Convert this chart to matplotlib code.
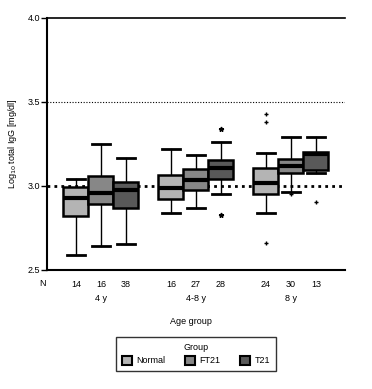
import matplotlib.pyplot as plt
import matplotlib.patches as mpatches
from matplotlib.transforms import blended_transform_factory

# data (log10 IgG, mg/dl)
age_groups = ["4 y", "4-8 y", "8 y"]
groups = ["Normal", "FT21", "T21"]
colors = ["#b4b4b4", "#878787", "#595959"]
n_counts = [14, 16, 38, 16, 27, 28, 24, 30, 13]

whislo = [2.59, 2.645, 2.657, 2.84, 2.87, 2.955, 2.84, 2.962, 3.077]
q1 = [2.82, 2.89, 2.867, 2.923, 2.974, 3.043, 2.952, 3.077, 3.093]
med = [2.927, 2.956, 2.974, 2.986, 3.036, 3.109, 3.016, 3.119, 3.189]
q3 = [2.996, 3.06, 3.026, 3.064, 3.099, 3.153, 3.105, 3.159, 3.204]
whishi = [3.044, 3.25, 3.168, 3.222, 3.187, 3.264, 3.196, 3.29, 3.29]
fliers = [[], [], [], [], [], [3.337, 2.827], [3.43, 3.38, 2.663], [2.95], [2.907]]
flier_marks = ["+", "+", "+", "+", "+", "*", "+", "+", "+"]

positions = [0, 1, 2, 3.8, 4.8, 5.8, 7.6, 8.6, 9.6]

fig = plt.figure(figsize=(3.72, 3.89), dpi=100)
plt.rcParams["font.family"] = ["Liberation Sans", "DejaVu Sans"]
ax = fig.add_axes([0.1263, 0.306, 0.801, 0.648])

stats = []
for i in range(len(med)):
    stats.append(dict(med=med[i], q1=q1[i], q3=q3[i], whislo=whislo[i],
                      whishi=whishi[i], fliers=[]))

# reference lines sit behind the boxes
ax.axhline(3.0, color="black", lw=2, ls=(0, (1, 1.5)), zorder=1)
ax.axhline(3.5, color="black", lw=0.8, ls=(0, (1, 1.5)), zorder=1)

bp = ax.bxp(stats, positions=positions, widths=1.0, patch_artist=True,
            showfliers=False,
            boxprops=dict(edgecolor="black", linewidth=1.8),
            medianprops=dict(color="black", linewidth=3),
            whiskerprops=dict(color="black", linewidth=1),
            capprops=dict(color="black", linewidth=2), capwidths=0.75)
for i, box in enumerate(bp["boxes"]):
    box.set_facecolor(colors[i % 3])
    box.set_zorder(3)
for m in bp["medians"]:
    m.set_zorder(4)

for i, fl in enumerate(fliers):
    if fl:
        ax.plot([positions[i]] * len(fl), fl, ls="none", marker=flier_marks[i],
                color="black", ms=3.5, mew=1.0, zorder=5)

ax.set_ylim(2.5, 4.0)
ax.set_xlim(-1.16, 10.76)
ax.set_yticks([2.5, 3.0, 3.5, 4.0])
ax.set_yticklabels(["2.5", "3.0", "3.5", "4.0"], fontsize=6.5)
ax.set_xticks(positions)
ax.set_xticklabels([str(n) for n in n_counts], fontsize=6.5)
ax.tick_params(axis="x", length=0, pad=7)
ax.tick_params(axis="y", length=4, width=1, pad=1)
ax.spines["right"].set_visible(False)
ax.spines["left"].set_linewidth(1.5)
ax.spines["bottom"].set_linewidth(1.5)
ax.spines["top"].set_linewidth(1.2)

ax.set_ylabel("Log$_{10}$ total IgG [mg/dl]", fontsize=6.5, labelpad=6)

tr = blended_transform_factory(ax.transData, ax.transAxes)
ax.text(-1.35, -0.055, "N", transform=tr, fontsize=6.5, ha="center", va="center")
for g, label in enumerate(age_groups):
    ax.text(positions[g * 3 + 1], -0.113, label, transform=tr, fontsize=6.5,
            ha="center", va="center")
ax.text(0.5 * (positions[0] + positions[-1]) - 0.2, -0.203, "Age group",
        transform=tr, fontsize=6.5, ha="center", va="center")

handles = [mpatches.Patch(facecolor=c, edgecolor="black", linewidth=1.5, label=g)
           for g, c in zip(groups, colors)]
leg = fig.legend(handles=handles, title="Group", ncol=3, loc="center",
                 bbox_to_anchor=(196 / 372, 1 - 354 / 389), fontsize=6.5,
                 title_fontsize=6.5, fancybox=False, edgecolor="black",
                 handlelength=1.1, handleheight=1.1, columnspacing=2.2,
                 handletextpad=0.5, borderpad=0.6)
leg.get_frame().set_linewidth(1.0)

fig.savefig("out.png", dpi=100)
